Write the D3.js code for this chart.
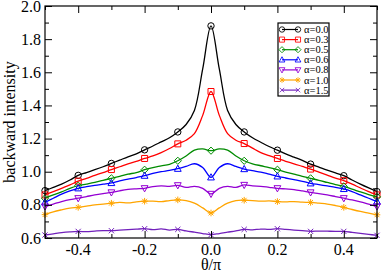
<!DOCTYPE html>
<html>
<head>
<meta charset="utf-8">
<script src="https://cdn.jsdelivr.net/npm/d3@7"></script>
<style>
  body { margin: 0; background: #fff; }
  svg { display: block; }
  text { font-family: "Liberation Serif", "DejaVu Serif", serif; fill: #000; }
</style>
</head>
<body>
<script>
// theta/pi grid, markers every 0.1
var theta = [-0.5, -0.475, -0.45, -0.425, -0.4, -0.375, -0.35, -0.325, -0.3, -0.275,
  -0.25, -0.225, -0.2, -0.175, -0.15, -0.125, -0.1, -0.075, -0.05, -0.025, 0,
  0.025, 0.05, 0.075, 0.1, 0.125, 0.15, 0.175, 0.2, 0.225, 0.25, 0.275, 0.3,
  0.325, 0.35, 0.375, 0.4, 0.425, 0.45, 0.475, 0.5]

var a00 = [0.886, 0.905, 0.925, 0.95, 0.978, 0.995, 1.012, 1.03, 1.05, 1.07, 1.09, 1.108, 1.132, 1.155, 1.18, 1.205, 1.24, 1.285, 1.37, 1.62, 1.88,
  1.62, 1.37, 1.285, 1.24, 1.205, 1.178, 1.152, 1.13, 1.108, 1.088, 1.068, 1.046, 1.028, 1.01, 0.993, 0.976, 0.95, 0.925, 0.902, 0.88]
var a03 = [0.86, 0.88, 0.9, 0.92, 0.943, 0.96, 0.978, 0.995, 1.013, 1.03, 1.048, 1.062, 1.08, 1.095, 1.115, 1.14, 1.168, 1.19, 1.23, 1.34, 1.484,
  1.34, 1.23, 1.19, 1.17, 1.142, 1.115, 1.097, 1.08, 1.063, 1.048, 1.032, 1.016, 0.998, 0.98, 0.962, 0.946, 0.925, 0.902, 0.88, 0.86]
var a05 = [0.84, 0.86, 0.878, 0.9, 0.916, 0.925, 0.935, 0.948, 0.96, 0.972, 0.985, 0.995, 1.012, 1.025, 1.035, 1.045, 1.066, 1.095, 1.13, 1.138, 1.127,
  1.138, 1.13, 1.095, 1.066, 1.048, 1.036, 1.025, 1.012, 0.998, 0.985, 0.972, 0.96, 0.948, 0.935, 0.922, 0.911, 0.895, 0.878, 0.862, 0.848]
var a06 = [0.815, 0.84, 0.865, 0.885, 0.9, 0.91, 0.918, 0.925, 0.932, 0.945, 0.955, 0.965, 0.976, 0.99, 1.0, 1.008, 1.018, 1.032, 1.048, 1.025, 0.966,
  1.025, 1.048, 1.032, 1.016, 1.006, 0.998, 0.985, 0.972, 0.962, 0.952, 0.942, 0.93, 0.922, 0.914, 0.906, 0.896, 0.88, 0.86, 0.84, 0.82]
var a08 = [0.79, 0.805, 0.82, 0.832, 0.84, 0.85, 0.86, 0.868, 0.875, 0.885, 0.893, 0.897, 0.9, 0.91, 0.915, 0.912, 0.918, 0.905, 0.912, 0.9, 0.866,
  0.9, 0.912, 0.905, 0.92, 0.914, 0.912, 0.906, 0.9, 0.896, 0.892, 0.884, 0.875, 0.868, 0.86, 0.85, 0.84, 0.83, 0.818, 0.804, 0.79]
var a10 = [0.741, 0.758, 0.77, 0.78, 0.785, 0.792, 0.8, 0.805, 0.81, 0.815, 0.812, 0.818, 0.822, 0.822, 0.82, 0.826, 0.83, 0.826, 0.81, 0.782, 0.751,
  0.782, 0.81, 0.826, 0.828, 0.826, 0.822, 0.824, 0.82, 0.818, 0.82, 0.816, 0.815, 0.81, 0.805, 0.796, 0.785, 0.772, 0.76, 0.75, 0.74]
var a15 = [0.618, 0.625, 0.632, 0.637, 0.64, 0.638, 0.642, 0.645, 0.644, 0.647, 0.65, 0.653, 0.656, 0.65, 0.655, 0.648, 0.652, 0.643, 0.635, 0.627, 0.62,
  0.627, 0.635, 0.643, 0.652, 0.649, 0.654, 0.652, 0.656, 0.652, 0.648, 0.644, 0.64, 0.642, 0.641, 0.64, 0.64, 0.634, 0.628, 0.622, 0.616]

var labels = ['α=0.0', 'α=0.3', 'α=0.5', 'α=0.6', 'α=0.8', 'α=1.0', 'α=1.5']
var colors = ['#000000', '#ff0000', '#008b00', '#0000ff', '#9400d3', '#ffa500', '#7221bc']
var symbols = ['circle', 'square', 'diamond', 'triUp', 'triDown', 'star', 'cross']
var series = [a00, a03, a05, a06, a08, a10, a15]

var xTicks = [-0.4, -0.2, 0.0, 0.2, 0.4]
var yTicks = [0.6, 0.8, 1.0, 1.2, 1.4, 1.6, 1.8, 2.0]

var W = 382, H = 272
var pL = 45, pR = 377, pT = 6, pB = 238

var svg = d3.select('body').append('svg')
  .attr('width', W)
  .attr('height', H)

var x = d3.scaleLinear().domain([-0.5, 0.5]).range([pL, pR])
var y = d3.scaleLinear().domain([0.6, 2.0]).range([pB, pT])

// symbol paths, size ~6px
function symbolPath(kind) {
  var s = 3.2
  switch (kind) {
    case 'circle': return 'M' + s + ',0A' + s + ',' + s + ' 0 1,1 ' + (-s) + ',0A' + s + ',' + s + ' 0 1,1 ' + s + ',0Z'
    case 'square': return 'M-3,-3H3V3H-3Z'
    case 'diamond': return 'M0,-3.6L3.6,0L0,3.6L-3.6,0Z'
    case 'triUp': return 'M0,-3.6L3.4,2.6H-3.4Z'
    case 'triDown': return 'M0,3.6L3.4,-2.6H-3.4Z'
    case 'star': return 'M-3.3,0H3.3M0,-3.3V3.3M-2.4,-2.4L2.4,2.4M-2.4,2.4L2.4,-2.4'
    case 'cross': return 'M-2.6,-2.6L2.6,2.6M-2.6,2.6L2.6,-2.6'
  }
}

var line = d3.line()
  .x(function (d) { return x(d[0]) })
  .y(function (d) { return y(d[1]) })
  .curve(d3.curveCatmullRom.alpha(0.5))

var plot = svg.append('g')
series.forEach(function (vals, k) {
  var pts = theta.map(function (t, i) { return [t, vals[i]] })
  plot.append('path')
    .attr('d', line(pts))
    .attr('fill', 'none')
    .attr('stroke', colors[k])
    .attr('stroke-width', 1.3)
  plot.selectAll('.m' + k)
    .data(pts.filter(function (d, i) { return i % 4 === 0 }))
    .enter().append('path')
    .attr('transform', function (d) { return 'translate(' + x(d[0]) + ',' + y(d[1]) + ')' })
    .attr('d', symbolPath(symbols[k]))
    .attr('fill', 'none')
    .attr('stroke', colors[k])
    .attr('stroke-width', 1)
})

// axes: ticks inward on all four sides
function ticks(g, scale, orient, values, len) {
  var axis = orient === 'bottom' ? d3.axisBottom(scale) : orient === 'top' ? d3.axisTop(scale)
    : orient === 'left' ? d3.axisLeft(scale) : d3.axisRight(scale)
  g.call(axis.tickValues(values).tickSize(-len).tickFormat(''))
  g.select('.domain').remove()
  g.selectAll('line').attr('stroke', '#000').attr('stroke-width', 1)
}
var xMinor = [-0.5, -0.3, -0.1, 0.1, 0.3, 0.5]
var yMinor = [0.7, 0.9, 1.1, 1.3, 1.5, 1.7, 1.9]

ticks(svg.append('g').attr('transform', 'translate(0,' + pB + ')'), x, 'bottom', xTicks, 7)
ticks(svg.append('g').attr('transform', 'translate(0,' + pB + ')'), x, 'bottom', xMinor, 4)
ticks(svg.append('g').attr('transform', 'translate(0,' + pT + ')'), x, 'top', xTicks, 7)
ticks(svg.append('g').attr('transform', 'translate(0,' + pT + ')'), x, 'top', xMinor, 4)
ticks(svg.append('g').attr('transform', 'translate(' + pL + ',0)'), y, 'left', yTicks, 7)
ticks(svg.append('g').attr('transform', 'translate(' + pL + ',0)'), y, 'left', yMinor, 4)
ticks(svg.append('g').attr('transform', 'translate(' + pR + ',0)'), y, 'right', yTicks, 7)
ticks(svg.append('g').attr('transform', 'translate(' + pR + ',0)'), y, 'right', yMinor, 4)

svg.append('rect')
  .attr('x', pL).attr('y', pT)
  .attr('width', pR - pL).attr('height', pB - pT)
  .attr('fill', 'none').attr('stroke', '#000').attr('stroke-width', 1.2)

// tick labels
svg.selectAll('.xl').data(xTicks).enter().append('text')
  .attr('x', function (d) { return x(d) })
  .attr('y', pB + 16.5)
  .attr('text-anchor', 'middle')
  .style('font-size', '16px')
  .text(function (d) { return d3.format('.1f')(d).replace('−', '-') })

svg.selectAll('.yl').data(yTicks).enter().append('text')
  .attr('x', pL - 4)
  .attr('y', function (d) { return y(d) + 5.5 })
  .attr('text-anchor', 'end')
  .style('font-size', '16px')
  .text(function (d) { return d3.format('.1f')(d) })

svg.append('text')
  .attr('x', x(0)).attr('y', 270)
  .attr('text-anchor', 'middle')
  .style('font-size', '16px')
  .text('θ/π')

svg.append('text')
  .attr('transform', 'translate(15,' + ((pT + pB) / 2) + ') rotate(-90)')
  .attr('text-anchor', 'middle')
  .style('font-size', '16px')
  .text('backward intensity')

// legend
var lg = svg.append('g').attr('transform', 'translate(278,23)')
lg.append('rect')
  .attr('width', 51).attr('height', 73)
  .attr('fill', '#fff').attr('stroke', '#000').attr('stroke-width', 1.2)
labels.forEach(function (lab, k) {
  var yy = 6.5 + k * 10.1
  lg.append('line')
    .attr('x1', 4).attr('x2', 20).attr('y1', yy).attr('y2', yy)
    .attr('stroke', colors[k]).attr('stroke-width', 1.2)
  ;[4, 20].forEach(function (xx) {
    lg.append('path')
      .attr('transform', 'translate(' + xx + ',' + yy + ') scale(0.85)')
      .attr('d', symbolPath(symbols[k]))
      .attr('fill', 'none').attr('stroke', colors[k]).attr('stroke-width', 1)
  })
  lg.append('text')
    .attr('x', 26).attr('y', yy + 3.5)
    .style('font-size', '10.5px')
    .text(lab)
})
</script>
</body>
</html>
